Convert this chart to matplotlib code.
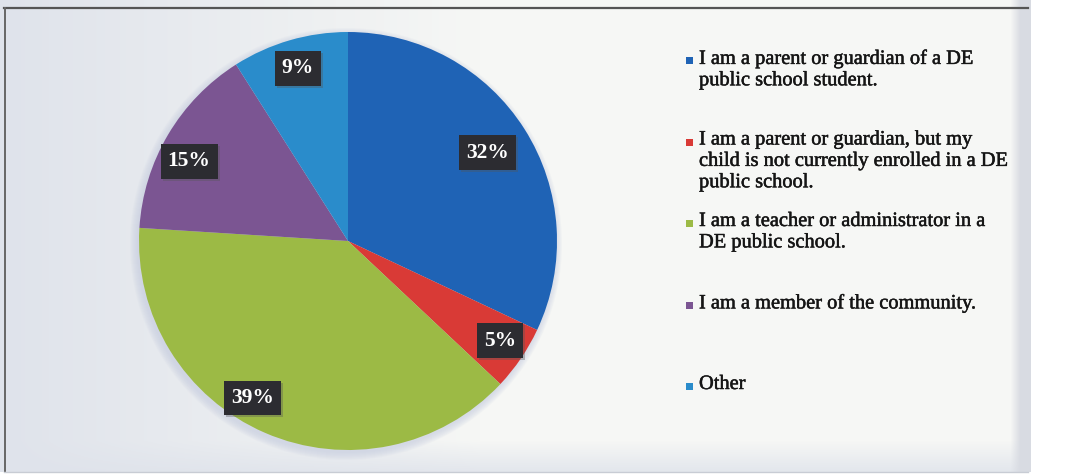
import numpy as np
import matplotlib.pyplot as plt
import matplotlib.patheffects as pe
from matplotlib.patches import Rectangle, Circle

# Survey responses (share of respondents, %)
categories = [
    "I am a parent or guardian of a DE\npublic school student.",
    "I am a parent or guardian, but my\nchild is not currently enrolled in a DE\npublic school.",
    "I am a teacher or administrator in a\nDE public school.",
    "I am a member of the community.",
    "Other",
]
shares = [32, 5, 39, 15, 9]
colors = ["#1f63b5", "#d93a36", "#9cba45", "#7b5592", "#2a8ccb"]

W, H = 1066, 475
fig = plt.figure(figsize=(W / 100, H / 100), dpi=100)
ax = fig.add_axes([0, 0, 1, 1])

# panel background: grey on the left / bottom, fading to white
xs = np.arange(W)
ys = np.arange(H)
X, Y = np.meshgrid(xs, ys)
t = np.clip(X / 480.0, 0, 1)
base = np.array([223, 227, 235]) / 255.0
light = np.array([246, 247, 245]) / 255.0
img = base + (light - base) * t[..., None]
bottom = np.clip((Y - 440) / 30.0, 0, 1)[..., None]
img = img + (base - img) * bottom * 0.8
edge = np.clip((X - 1010) / 10.0, 0, 1)[..., None]
img = img + (np.array([216, 219, 226]) / 255.0 - img) * edge
img[X > 1030] = 1.0
img[Y > 471] = 1.0
ax.imshow(img, extent=[0, W, 0, H], origin="upper", zorder=0)

# frame lines
ax.plot([4, 1028], [H - 8, H - 8], color="#555555", lw=1.6, zorder=1)
ax.plot([5, 5], [H - 8, H - 471], color="#666666", lw=1.4, zorder=1)
ax.plot([4, 1028], [H - 472, H - 472], color="#c8ccd4", lw=1.0, zorder=1)

cx, cy, R = 348, H - 241, 209

# soft shadow under the pie
for k in range(8):
    ax.add_patch(Circle((cx - 2, cy - 3), R + 7 - k, color="#c6cde0",
                        alpha=0.11, lw=0, zorder=2))

wedges, _ = ax.pie(shares, colors=colors, startangle=90, counterclock=False,
                   center=(cx, cy), radius=R,
                   wedgeprops=dict(linewidth=0, zorder=3))
for w in wedges:
    w.set_zorder(3)

ax.set_xlim(0, W)
ax.set_ylim(0, H)
ax.set_aspect("equal")
ax.axis("off")

# percentage boxes
label_r = [0.79, 0.87, 0.88, 0.85, 0.86]
label_shift = [0, 1, -8, 4, 0]
for w, s, rf, da in zip(wedges, shares, label_r, label_shift):
    mid = np.deg2rad((w.theta1 + w.theta2) / 2 + da)
    lx = cx + rf * R * np.cos(mid)
    ly = cy + rf * R * np.sin(mid)
    box = dict(boxstyle="square,pad=0.33", fc="#2c2c31", ec="none")
    shadow = dict(boxstyle="square,pad=0.33", fc="#555555", ec="none", alpha=0.35)
    ax.text(lx + 2, ly - 2, f"{s}%", fontsize=15.5, fontweight="bold",
            family="Liberation Serif", color="none", ha="center", va="center",
            bbox=shadow, zorder=4)
    ax.text(lx, ly, f"{s}%", fontsize=15.5, fontweight="bold",
            family="Liberation Serif", color="white", ha="center", va="center",
            bbox=box, zorder=5)

# legend entries in evenly spaced slots
top = H - 49
slot = 81.5
for i, (lab, c) in enumerate(zip(categories, colors)):
    y = top - i * slot
    ax.add_patch(Rectangle((686, y - 15), 7, 7, color=c, lw=0, zorder=5))
    ax.text(699, y, lab, fontsize=14.7, family="Liberation Serif", color="#151515",
            ha="left", va="top", linespacing=1.17, zorder=5,
            path_effects=[pe.withStroke(linewidth=0.35, foreground="#151515")])

fig.savefig("out.png", dpi=100)
